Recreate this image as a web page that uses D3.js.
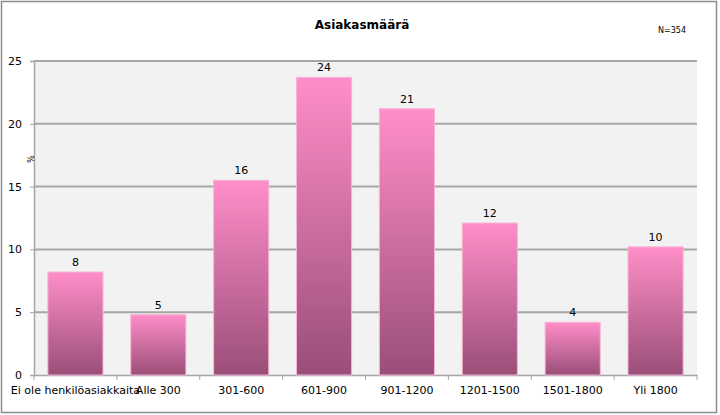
<!DOCTYPE html>
<html>
<head>
<meta charset="utf-8">
<script src="https://cdn.jsdelivr.net/npm/d3@7"></script>
<style>
  body { margin: 0; background: #fff; }
  text { font-family: "DejaVu Sans", Verdana, sans-serif; }
</style>
</head>
<body>
<div id="chart"></div>
<script>
// data
var categories = ["Ei ole henkilöasiakkaita", "Alle 300", "301-600", "601-900", "901-1200", "1201-1500", "1501-1800", "Yli 1800"];
var percents = [8.2, 4.8, 15.5, 23.7, 21.2, 12.1, 4.2, 10.2];
var yTicks = [0, 5, 10, 15, 20, 25];

// svg params
var svgWidth = 720;
var svgHeight = 415;
var margin = { top: 61, right: 23, bottom: 40, left: 34 };
var chartWidth = svgWidth - margin.left - margin.right;
var chartHeight = svgHeight - margin.top - margin.bottom;

var svg = d3.select("#chart").append("svg")
  .attr("width", svgWidth)
  .attr("height", svgHeight);

// gradient for bars
var grad = svg.append("defs").append("linearGradient")
  .attr("id", "barGrad")
  .attr("x1", 0).attr("y1", 0).attr("x2", 0).attr("y2", 1);
grad.append("stop").attr("offset", "0%").attr("stop-color", "#ff8ec8");
grad.append("stop").attr("offset", "100%").attr("stop-color", "#9a4e78");

// outer frame
svg.append("rect")
  .attr("x", 1.5).attr("y", 1.5)
  .attr("width", 715).attr("height", 411)
  .attr("fill", "#fff")
  .attr("stroke", "#8c8c8c")
  .attr("stroke-width", 1.5);

var chartGroup = svg.append("g")
  .attr("transform", `translate(${margin.left}, ${margin.top})`);

var xScale = d3.scaleBand()
  .domain(categories)
  .range([0, chartWidth])
  .paddingInner(0.335)
  .paddingOuter(0.1675);

var yScale = d3.scaleLinear()
  .domain([0, 25])
  .range([chartHeight, 0]);

// plot background
chartGroup.append("rect")
  .attr("width", chartWidth)
  .attr("height", chartHeight)
  .attr("fill", "#f2f2f2");

// gridlines
chartGroup.append("g")
  .selectAll("line")
  .data(yTicks.slice(1))
  .enter()
  .append("line")
  .attr("x1", 0)
  .attr("x2", chartWidth)
  .attr("y1", d => yScale(d))
  .attr("y2", d => yScale(d))
  .attr("stroke", "#a6a6a6")
  .attr("stroke-width", 2);

// left axis
var leftAxis = d3.axisLeft(yScale).tickValues(yTicks).tickSize(4).tickPadding(8);
var yAxis = chartGroup.append("g").call(leftAxis);
yAxis.select(".domain").attr("stroke", "#a6a6a6").attr("stroke-width", 1.5);
yAxis.selectAll(".tick line").attr("stroke", "#a6a6a6");
yAxis.selectAll("text").attr("font-size", "11px").attr("fill", "#000");

// bottom axis, ticks at the band edges
var bottomAxis = d3.axisBottom(xScale).tickSize(0).tickPadding(11);
var xAxis = chartGroup.append("g")
  .attr("transform", `translate(0, ${chartHeight})`)
  .call(bottomAxis);
xAxis.select(".domain").attr("stroke", "#a6a6a6").attr("stroke-width", 1.5);
xAxis.selectAll("text").attr("font-size", "11px").attr("fill", "#000");

var step = xScale.step();
chartGroup.append("g")
  .selectAll("line")
  .data(d3.range(categories.length + 1))
  .enter()
  .append("line")
  .attr("x1", d => d * step)
  .attr("x2", d => d * step)
  .attr("y1", chartHeight)
  .attr("y2", chartHeight + 5)
  .attr("stroke", "#a6a6a6");

// bars
chartGroup.selectAll(".bar")
  .data(percents)
  .enter()
  .append("rect")
  .attr("class", "bar")
  .attr("x", (d, i) => xScale(categories[i]))
  .attr("y", d => yScale(d))
  .attr("width", xScale.bandwidth())
  .attr("height", d => chartHeight - yScale(d))
  .attr("fill", "url(#barGrad)")
  .attr("stroke", "#f7b4d6")
  .attr("stroke-width", 1);

// value labels
chartGroup.selectAll(".val")
  .data(percents)
  .enter()
  .append("text")
  .attr("class", "val")
  .attr("x", (d, i) => xScale(categories[i]) + xScale.bandwidth() / 2)
  .attr("y", d => yScale(d) - 6)
  .attr("text-anchor", "middle")
  .attr("font-size", "11px")
  .text(d => Math.round(d));

// y axis title
chartGroup.append("text")
  .attr("transform", "rotate(90)")
  .attr("x", 98)
  .attr("y", 7)
  .attr("text-anchor", "middle")
  .attr("font-size", "8px")
  .text("%");

// title
svg.append("text")
  .attr("x", 362)
  .attr("y", 29)
  .attr("text-anchor", "middle")
  .attr("font-size", "12px")
  .attr("font-weight", "bold")
  .text("Asiakasmäärä");

svg.append("text")
  .attr("x", 672)
  .attr("y", 33)
  .attr("text-anchor", "middle")
  .attr("font-size", "8px")
  .text("N=354");
</script>
</body>
</html>
